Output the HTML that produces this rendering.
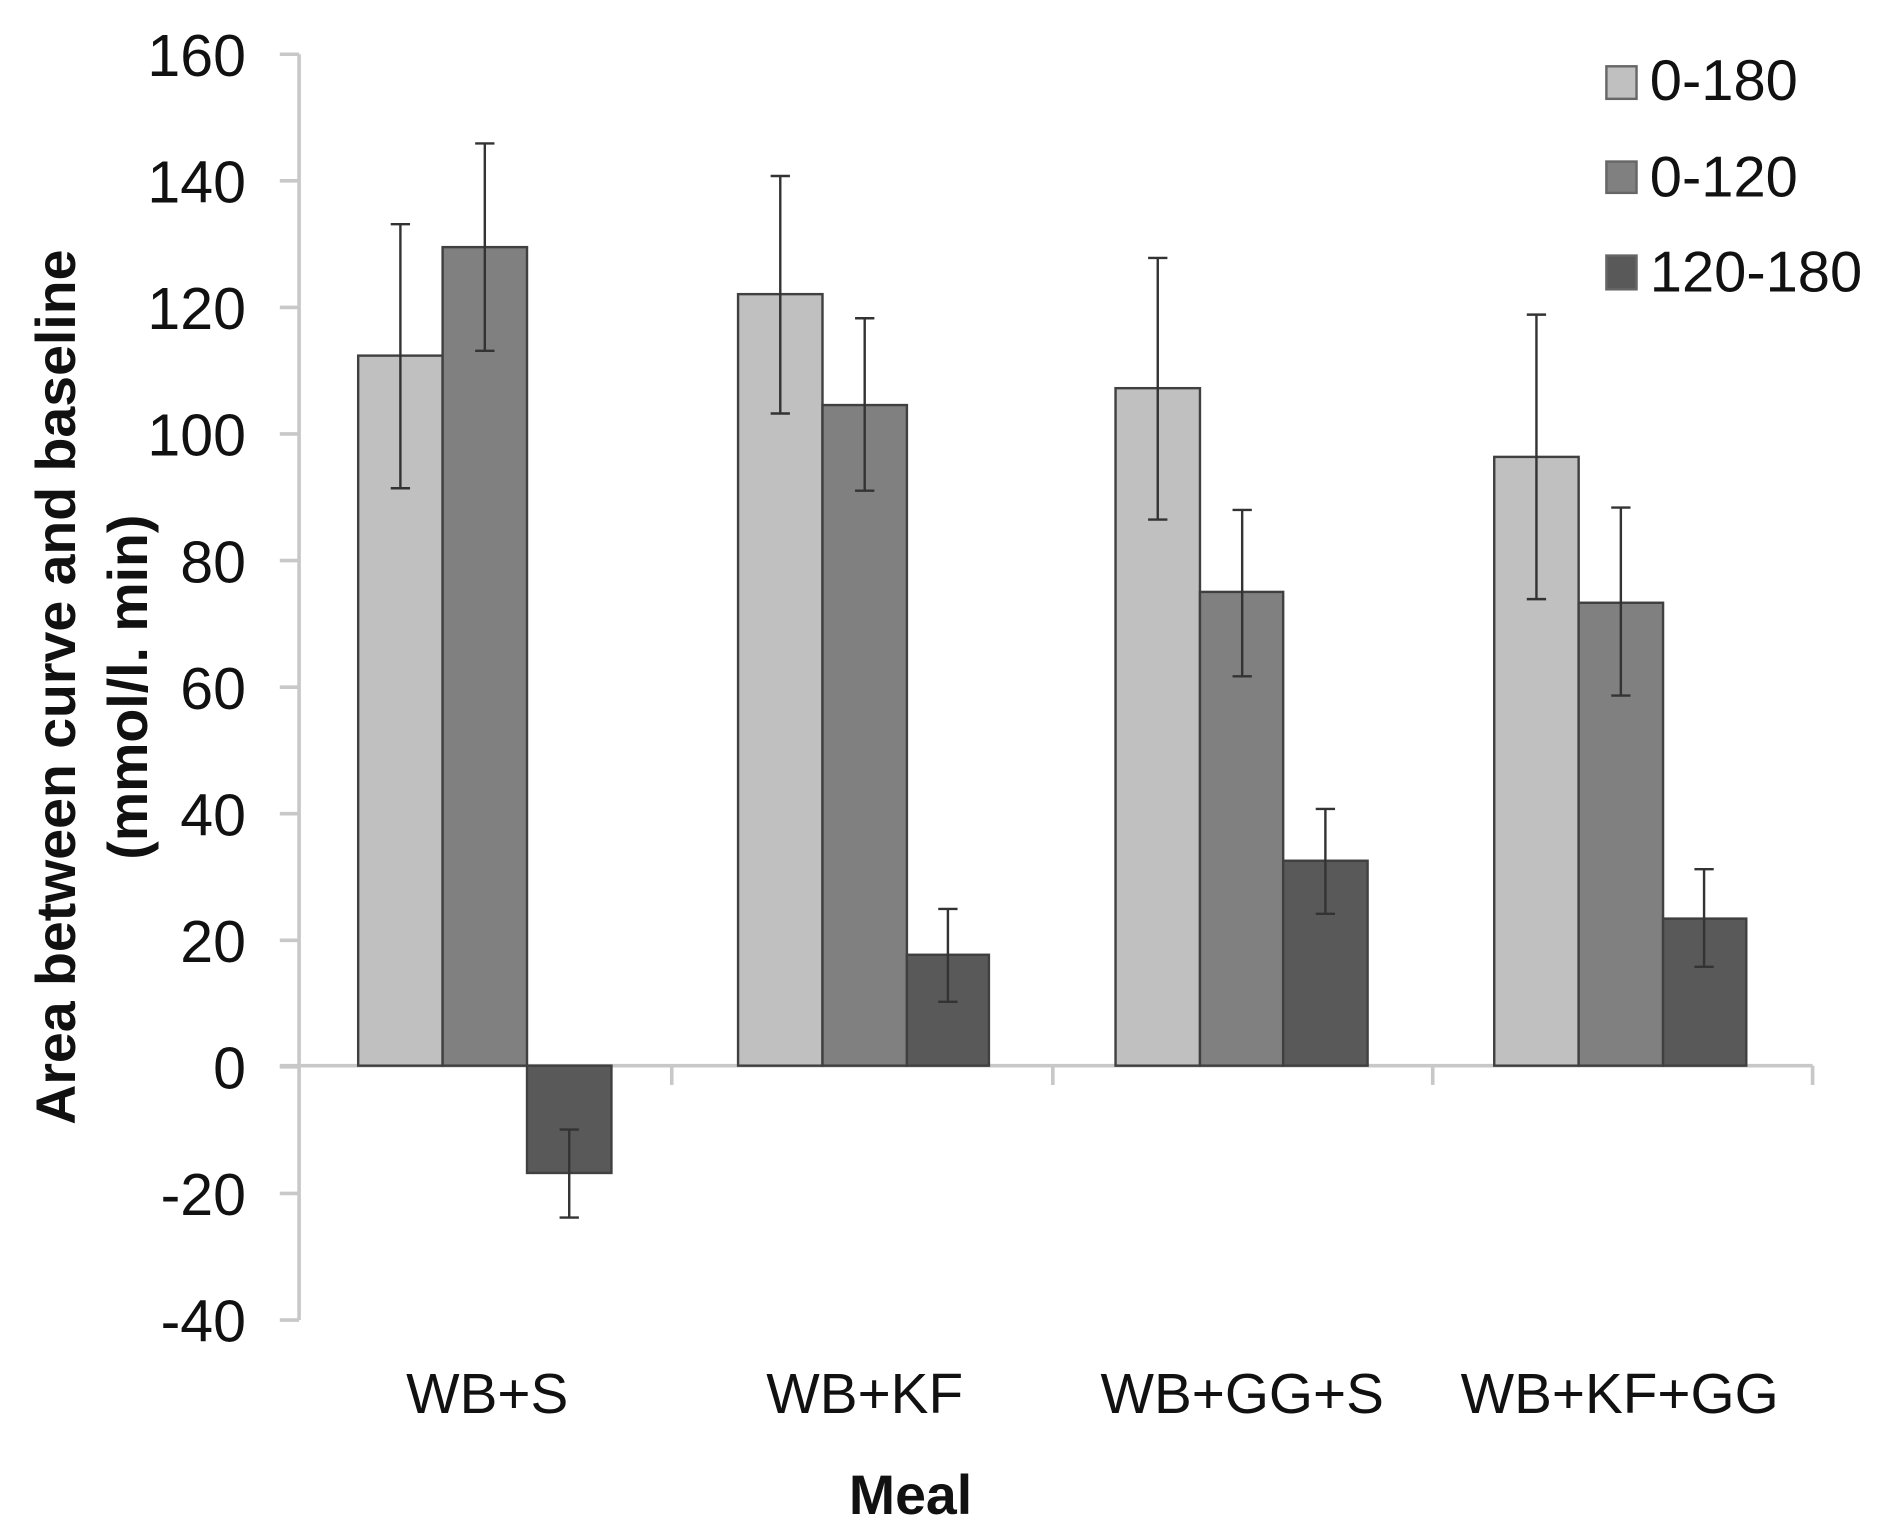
<!DOCTYPE html>
<html><head><style>html,body{margin:0;padding:0;background:#fff}svg{display:block}</style></head>
<body>
<svg width="1891" height="1531" viewBox="0 0 1568 1270" preserveAspectRatio="none" xmlns="http://www.w3.org/2000/svg" font-family="Liberation Sans, Arial, sans-serif">
<rect width="1568" height="1270" fill="#fff"/>
<g stroke="#c8c8c8" stroke-width="3" fill="none">
<line x1="248" y1="45" x2="248" y2="1095"/>
<line x1="232" y1="45" x2="248" y2="45"/><line x1="232" y1="150" x2="248" y2="150"/><line x1="232" y1="255" x2="248" y2="255"/><line x1="232" y1="360" x2="248" y2="360"/><line x1="232" y1="465" x2="248" y2="465"/><line x1="232" y1="570" x2="248" y2="570"/><line x1="232" y1="675" x2="248" y2="675"/><line x1="232" y1="780" x2="248" y2="780"/><line x1="232" y1="885" x2="248" y2="885"/><line x1="232" y1="990" x2="248" y2="990"/><line x1="232" y1="1095" x2="248" y2="1095"/>
<line x1="232" y1="884" x2="1503" y2="884"/>
<line x1="557" y1="884" x2="557" y2="900"/><line x1="873" y1="884" x2="873" y2="900"/><line x1="1188" y1="884" x2="1188" y2="900"/><line x1="1503" y1="884" x2="1503" y2="900"/>
</g>
<g font-size="49" fill="#111" text-anchor="end">
<text x="204" y="63">160</text><text x="204" y="168">140</text><text x="204" y="273">120</text><text x="204" y="378">100</text><text x="204" y="483">80</text><text x="204" y="588">60</text><text x="204" y="693">40</text><text x="204" y="798">20</text><text x="204" y="903">0</text><text x="204" y="1008">-20</text><text x="204" y="1113">-40</text>
</g>
<g stroke="#404040" stroke-width="2">
<rect x="297" y="295" width="70" height="589" fill="#c0c0c0"/>
<rect x="367" y="205" width="70" height="679" fill="#808080"/>
<rect x="437" y="884" width="70" height="89" fill="#595959"/>
<rect x="612" y="244" width="70" height="640" fill="#c0c0c0"/>
<rect x="682" y="336" width="70" height="548" fill="#808080"/>
<rect x="752" y="792" width="68" height="92" fill="#595959"/>
<rect x="925" y="322" width="70" height="562" fill="#c0c0c0"/>
<rect x="995" y="491" width="69" height="393" fill="#808080"/>
<rect x="1064" y="714" width="70" height="170" fill="#595959"/>
<rect x="1239" y="379" width="70" height="505" fill="#c0c0c0"/>
<rect x="1309" y="500" width="70" height="384" fill="#808080"/>
<rect x="1379" y="762" width="69" height="122" fill="#595959"/>
</g>
<g stroke="#333" stroke-width="2" fill="none">
<path d="M332 186V405M324 186H340M324 405H340"/>
<path d="M402 119V291M394 119H410M394 291H410"/>
<path d="M472 937V1010M464 937H480M464 1010H480"/>
<path d="M647 146V343M639 146H655M639 343H655"/>
<path d="M717 264V407M709 264H725M709 407H725"/>
<path d="M786 754V831M778 754H794M778 831H794"/>
<path d="M960 214V431M952 214H968M952 431H968"/>
<path d="M1030 423V561M1022 423H1038M1022 561H1038"/>
<path d="M1099 671V758M1091 671H1107M1091 758H1107"/>
<path d="M1274 261V497M1266 261H1282M1266 497H1282"/>
<path d="M1344 421V577M1336 421H1352M1336 577H1352"/>
<path d="M1413 721V802M1405 721H1421M1405 802H1421"/>
</g>
<g font-size="47" fill="#111" text-anchor="middle">
<text x="404" y="1172">WB+S</text><text x="717" y="1172">WB+KF</text><text x="1030" y="1172">WB+GG+S</text><text x="1343" y="1172">WB+KF+GG</text>
</g>
<text x="755" y="1256" font-size="46" font-weight="bold" text-anchor="middle" fill="#111">Meal</text>
<g font-size="46" font-weight="bold" fill="#111" text-anchor="middle">
<text transform="translate(62,570) rotate(-90)">Area between curve and baseline</text>
<text transform="translate(122,570) rotate(-90)">(mmol/l. min)</text>
</g>
<g stroke="#666" stroke-width="2">
<rect x="1332" y="55" width="25" height="27" fill="#c0c0c0"/>
<rect x="1332" y="134" width="25" height="26" fill="#808080"/>
<rect x="1332" y="212" width="25" height="28" fill="#595959"/>
</g>
<g font-size="48" fill="#111">
<text x="1368" y="83">0-180</text><text x="1368" y="163">0-120</text><text x="1368" y="242">120-180</text>
</g>
</svg>
</body></html>
